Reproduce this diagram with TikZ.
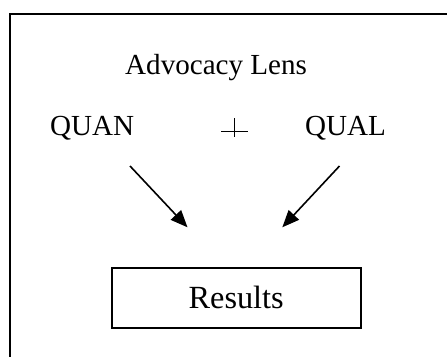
\documentclass[tikz,border=0pt]{standalone}
\usepackage{fontspec}
\setmainfont{Liberation Serif}
\usetikzlibrary{arrows.meta}
\begin{document}
\begin{tikzpicture}[x=1pt,y=-1pt,
  lbl/.style={inner sep=0pt,anchor=base west,font=\fontsize{29.1}{35}\selectfont},
  resbox/.style={draw,line width=1.6pt,minimum width=249pt,minimum height=60pt,inner sep=0pt,font=\fontsize{32.3}{38}\selectfont},
  arr/.style={line width=1.6pt,-{Triangle[length=17pt,width=14pt]}},
  frame/.style={line width=2.2pt}]
\useasboundingbox (0,0) rectangle (447,356);
\draw[frame] (10,357) -- (10,14.3) -- (448,14.3);
\node[lbl] (lens) at (125,74) {Advocacy Lens};
\node[lbl] (quan) at (50,135) {QUAN};
\node[lbl] (qual) at (305,135) {QUAL};
\draw[line width=1.5pt] (221,131.7) -- (248,131.7) (234.5,118) -- (234.5,137);
\node[resbox] (res) at (236.2,297.7) {Results};
\coordinate (s1) at (130,166);
\coordinate (t1) at (187.5,227.3);
\coordinate (s2) at (339.5,166);
\coordinate (t2) at (282.3,227.3);
\draw[arr] (s1) -- (t1);
\draw[arr] (s2) -- (t2);
\end{tikzpicture}
\end{document}
